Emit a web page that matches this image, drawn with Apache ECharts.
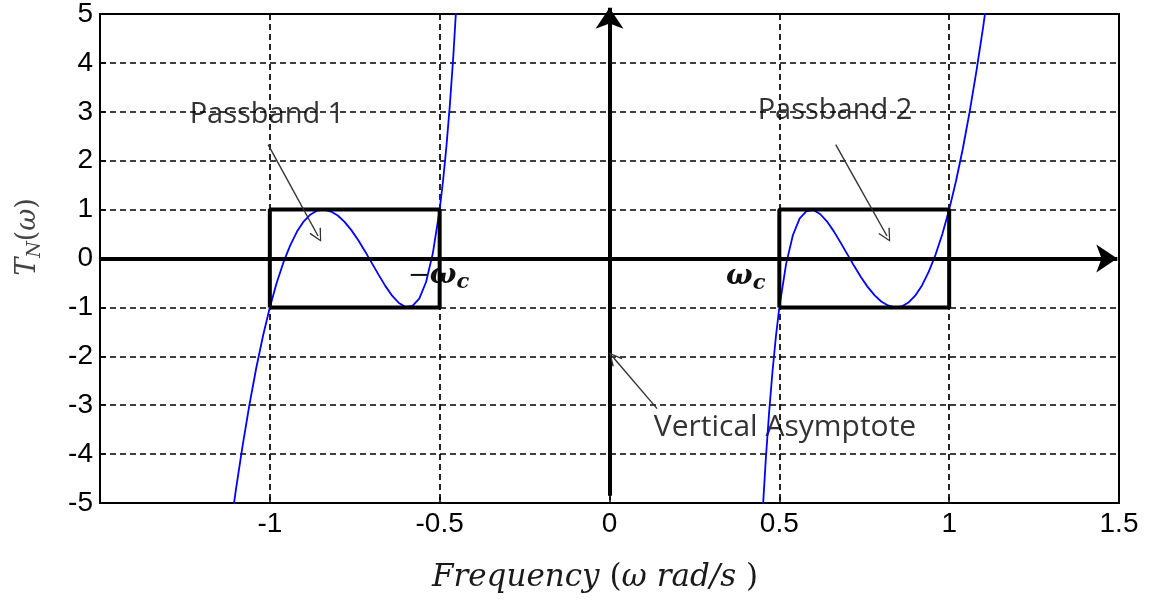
<!DOCTYPE html>
<html>
<head>
<meta charset="utf-8">
<script src="https://cdn.jsdelivr.net/npm/echarts@6/dist/echarts.min.js"></script>
<style>
  html, body { margin: 0; padding: 0; background: #fff; }
  #chart { width: 1160px; height: 606px; }
</style>
</head>
<body>
<div id="chart"></div>
<script>
// Transformed 3rd-order Chebyshev response T_N(ω) over frequency ω (rad/s)
const omegaNeg = [-1.12, -1.10, -1.08, -1.06, -1.04, -1.02, -1.00, -0.98, -0.96, -0.94, -0.92, -0.90,
  -0.88, -0.86, -0.84, -0.82, -0.80, -0.78, -0.76, -0.74, -0.72, -0.70, -0.68, -0.66, -0.64, -0.62,
  -0.60, -0.58, -0.56, -0.54, -0.52, -0.50, -0.49, -0.48, -0.47, -0.46, -0.45];
const tnNeg = [-5.74, -4.73, -3.82, -2.99, -2.24, -1.58, -1.00, -0.50, -0.08, 0.27, 0.55, 0.76,
  0.90, 0.98, 1.00, 0.96, 0.88, 0.75, 0.58, 0.38, 0.15, -0.09, -0.33, -0.56, -0.76, -0.91,
  -0.99, -0.97, -0.82, -0.48, 0.11, 1.00, 1.59, 2.30, 3.14, 4.12, 5.28];

const omegaPos = [0.45, 0.46, 0.47, 0.48, 0.49, 0.50, 0.52, 0.54, 0.56, 0.58, 0.60, 0.62, 0.64,
  0.66, 0.68, 0.70, 0.72, 0.74, 0.76, 0.78, 0.80, 0.82, 0.84, 0.86, 0.88, 0.90, 0.92, 0.94,
  0.96, 0.98, 1.00, 1.02, 1.04, 1.06, 1.08, 1.10, 1.12];
const tnPos = [-5.28, -4.12, -3.14, -2.30, -1.59, -1.00, -0.11, 0.48, 0.82, 0.97, 0.99, 0.91, 0.76,
  0.56, 0.33, 0.09, -0.15, -0.38, -0.58, -0.75, -0.88, -0.96, -1.00, -0.98, -0.90, -0.76, -0.55, -0.27,
  0.08, 0.50, 1.00, 1.58, 2.24, 2.99, 3.82, 4.73, 5.74];

// Passband rectangles (corners traced clockwise)
const band1X = [-1, -1, -0.5, -0.5, -1];
const band1Y = [-1, 1, 1, -1, -1];
const band2X = [0.5, 0.5, 1, 1, 0.5];
const band2Y = [-1, 1, 1, -1, -1];

// Axis ranges and tick labels
const xRange = [-1.5, 1.5];
const yRange = [-5, 5];
const xTickLabels = { '-1': '-1', '-0.5': '-0.5', '0': '0', '0.5': '0.5', '1': '1', '1.5': '1.5' };

// Thick frequency / response axes with arrow heads: [from, to]
const axisArrows = [
  [[-1.5, 0], [1.495, 0]],
  [[0, -4.85], [0, 5.13]]
];
// Callout arrows: [from, to]
const calloutArrows = [
  [[-1.005, 2.33], [-0.858, 0.46]],
  [[0.666, 2.33], [0.817, 0.46]],
  [[0.140, -3.07], [0.012, -2.03]]
];

const zip = (xs, ys) => xs.map((x, i) => [x, ys[i]]);

const chart = echarts.init(document.getElementById('chart'), null, { renderer: 'canvas' });

const gridDash = { color: '#000', width: 1.7, type: [6, 4] };
const tickFont = { fontFamily: 'Liberation Sans', fontSize: 28, color: '#000' };
const chevron = 'path://M5,0 L10,13 L9,13.6 L5,2.6 L1,13.6 L0,13 Z';

chart.setOption({
  animation: false,
  backgroundColor: '#fff',
  grid: { left: 100, right: 41, top: 12, bottom: 103, show: true, borderColor: '#000', borderWidth: 2, backgroundColor: 'transparent' },
  xAxis: {
    type: 'value', min: xRange[0], max: xRange[1], interval: 0.5,
    axisLine: { show: false, onZero: false },
    axisTick: { show: true, inside: true, length: 6, lineStyle: { color: '#000', width: 1.5 } },
    axisLabel: { ...tickFont, margin: 7, formatter: v => xTickLabels[String(v)] || '' },
    splitLine: { show: true, lineStyle: gridDash }
  },
  yAxis: {
    type: 'value', min: yRange[0], max: yRange[1], interval: 1,
    axisLine: { show: false, onZero: false },
    axisTick: { show: true, inside: true, length: 6, lineStyle: { color: '#000', width: 1.5 } },
    axisLabel: { ...tickFont, margin: 7 },
    splitLine: { show: true, lineStyle: gridDash }
  },
  series: [
    {
      name: 'T_N negative band', type: 'line', data: zip(omegaNeg, tnNeg),
      showSymbol: false, clip: true, z: 3,
      lineStyle: { color: '#0000ff', width: 1.8 }
    },
    {
      name: 'T_N positive band', type: 'line', data: zip(omegaPos, tnPos),
      showSymbol: false, clip: true, z: 3,
      lineStyle: { color: '#0000ff', width: 1.8 }
    },
    {
      name: 'Passband 1', type: 'line', data: zip(band1X, band1Y),
      showSymbol: false, z: 4, lineStyle: { color: '#000', width: 4 }
    },
    {
      name: 'Passband 2', type: 'line', data: zip(band2X, band2Y),
      showSymbol: false, z: 4, lineStyle: { color: '#000', width: 4 }
    },
    {
      name: 'axes', type: 'lines', coordinateSystem: 'cartesian2d', clip: false, silent: true, z: 5,
      symbol: ['none', 'arrow'], symbolSize: 21,
      lineStyle: { color: '#000', width: 4, opacity: 1, curveness: 0 },
      itemStyle: { color: '#000' },
      data: axisArrows.map(c => ({ coords: c }))
    },
    {
      name: 'callouts', type: 'lines', coordinateSystem: 'cartesian2d', clip: false, silent: true, z: 6,
      symbol: ['none', chevron], symbolSize: 13,
      lineStyle: { color: '#333', width: 1.4, opacity: 1, curveness: 0 },
      itemStyle: { color: '#333' },
      data: calloutArrows.map(c => ({ coords: c }))
    }
  ],
  graphic: [
    { type: 'text', x: 267, y: 115, style: { text: 'Passband 1', font: '29px "Open Sans"', fill: '#333', textAlign: 'center', textVerticalAlign: 'middle' } },
    { type: 'text', x: 835, y: 111, style: { text: 'Passband 2', font: '29px "Open Sans"', fill: '#333', textAlign: 'center', textVerticalAlign: 'middle' } },
    { type: 'text', x: 785, y: 427, style: { text: 'Vertical Asymptote', font: '30px "Open Sans"', fill: '#333', textAlign: 'center', textVerticalAlign: 'middle' } },
    {
      type: 'text', x: 408, y: 276,
      style: {
        text: '{m|−}{w|ω}{c|c}', textAlign: 'left', textVerticalAlign: 'middle',
        rich: {
          m: { fontFamily: 'DejaVu Serif', fontSize: 26, fill: '#111', verticalAlign: 'middle', lineHeight: 34 },
          w: { fontFamily: 'DejaVu Serif', fontStyle: 'italic', fontWeight: 'bold', fontSize: 28, fill: '#111', verticalAlign: 'middle', lineHeight: 34 },
          c: { fontFamily: 'DejaVu Serif', fontStyle: 'italic', fontWeight: 'bold', fontSize: 21, fill: '#111', verticalAlign: 'bottom', lineHeight: 34 }
        }
      }
    },
    {
      type: 'text', x: 726, y: 277,
      style: {
        text: '{w|ω}{c|c}', textAlign: 'left', textVerticalAlign: 'middle',
        rich: {
          w: { fontFamily: 'DejaVu Serif', fontStyle: 'italic', fontWeight: 'bold', fontSize: 28, fill: '#111', verticalAlign: 'middle', lineHeight: 34 },
          c: { fontFamily: 'DejaVu Serif', fontStyle: 'italic', fontWeight: 'bold', fontSize: 21, fill: '#111', verticalAlign: 'bottom', lineHeight: 34 }
        }
      }
    },
    {
      type: 'text', x: 595, y: 578,
      style: {
        text: '{i|Frequency}{n| (}{i|ω rad/s}{n| )}', textAlign: 'center', textVerticalAlign: 'middle',
        rich: {
          i: { fontFamily: 'DejaVu Serif', fontStyle: 'italic', fontSize: 31, fill: '#1a1a1a' },
          n: { fontFamily: 'DejaVu Serif', fontSize: 31, fill: '#1a1a1a' }
        }
      }
    },
    {
      type: 'text', x: 28, y: 237, rotation: Math.PI / 2,
      style: {
        text: '{t|T}{s|N}{n|(}{t|ω}{n|)}', textAlign: 'center', textVerticalAlign: 'middle',
        rich: {
          t: { fontFamily: 'DejaVu Serif', fontStyle: 'italic', fontSize: 27, fill: '#444', verticalAlign: 'middle', lineHeight: 34 },
          s: { fontFamily: 'DejaVu Serif', fontStyle: 'italic', fontSize: 19, fill: '#444', verticalAlign: 'bottom', lineHeight: 34 },
          n: { fontFamily: 'DejaVu Serif', fontSize: 27, fill: '#444', verticalAlign: 'middle', lineHeight: 34 }
        }
      }
    }
  ]
});
</script>
</body>
</html>
